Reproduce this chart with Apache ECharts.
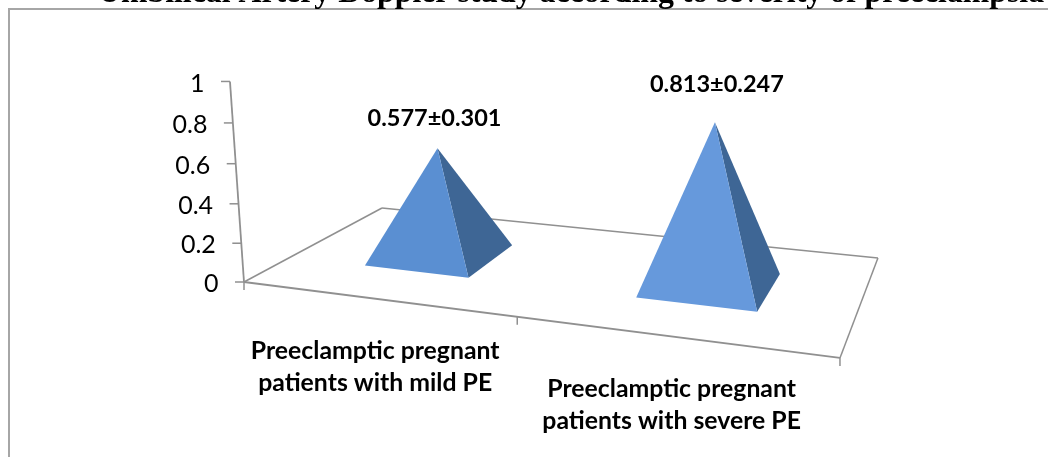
<!DOCTYPE html>
<html>
<head>
<meta charset="utf-8">
<title>Umbilical Artery Doppler</title>
<script src="https://cdn.jsdelivr.net/npm/echarts@6/dist/echarts.min.js"></script>
<style>
    html, body { margin: 0; padding: 0; background: #fff; }
    #chart { width: 1048px; height: 457px; }
</style>
</head>
<body>
<div id="chart"></div>
<script>
const titleText = "Umbilical Artery Doppler study according to severity of preeclampsia";
const categories = ["Preeclamptic pregnant\npatients with mild PE", "Preeclamptic pregnant\npatients with severe PE"];
const means = [0.577, 0.813];
const deviations = [0.301, 0.247];
const yTicks = [0, 0.2, 0.4, 0.6, 0.8, 1];

// colours per pyramid, the original has a slight lighting change
const frontColors = ["#5a8fd2", "#6699dc"];
const sideColors = ["#3e6695", "#3e6695"];
const lineColor = "#909090";

// 3d look: u along the categories, v into the depth, t up the value axis
const M = {
    a: 467.2, b: 219.5, p: -23.5, c: 244,
    d: 21.1, e: -29.6, q: -203.9, f: 282,
    g: -0.1533, h: 0.2134, r: -0.0412
};
function project(u, v, t) {
    const w = M.g * u + M.h * v + M.r * t + 1;
    return [
        (M.a * u + M.b * v + M.p * t + M.c) / w,
        (M.d * u + M.e * v + M.q * t + M.f) / w
    ];
}
// from grid pixels (what api.coord gives) to u and t
function toUT(params, pt) {
    const cs = params.coordSys;
    return [(pt[0] - cs.x) / cs.width, (cs.y + cs.height - pt[1]) / cs.height];
}
function line(p1, p2, width) {
    return {
        type: "line",
        shape: { x1: p1[0], y1: p1[1], x2: p2[0], y2: p2[1] },
        style: { stroke: lineColor, lineWidth: width || 1.5 }
    };
}
function poly(points, color) {
    return { type: "polygon", shape: { points: points }, style: { fill: color } };
}
function text(x, y, str, font, align) {
    return {
        type: "text",
        x: x,
        y: y,
        style: {
            text: str,
            fill: "#000",
            font: font,
            align: align,
            verticalAlign: "middle",
            lineHeight: 32.5
        }
    };
}

const tickFont = "25px Lato";
const valueFont = "bold 23.5px Lato";
const labelFont = "bold 24.8px Lato";
const halfBase = 0.1;
const depthNear = 0.3;
const depthFar = 0.7;
const valueLabelShift = [[-3, -30], [2, -38]];

function renderFloor(params, api) {
    const n = categories.length;
    const children = [
        line(project(0, 0, 0), project(1, 0, 0), 1.8),
        line(project(1, 0, 0), project(1, 1, 0)),
        line(project(1, 1, 0), project(0, 1, 0)),
        line(project(0, 1, 0), project(0, 0, 0)),
        line(project(0, 0, 0), project(0, 0, 1), 1.8)
    ];
    for (let i = 0; i <= n; i++) {
        const p = project(i / n, 0, 0);
        children.push(line(p, [p[0], p[1] + 8]));
    }
    return { type: "group", children: children };
}

function renderYTick(params, api) {
    const ut = toUT(params, api.coord([0, api.value(1)]));
    const p = project(0, 0, ut[1]);
    return {
        type: "group",
        children: [
            line(p, [p[0] - 9, p[1]]),
            text(p[0] - 25.5, p[1] + 2, yTicks[params.dataIndex] + "", tickFont, "right")
        ]
    };
}

function renderPyramid(params, api) {
    const i = params.dataIndex;
    const base = toUT(params, api.coord([i, 0]));
    const top = toUT(params, api.coord([i, api.value(1)]));
    const u = base[0];
    const fl = project(u - halfBase, depthNear, 0);
    const fr = project(u + halfBase, depthNear, 0);
    const br = project(u + halfBase, depthFar, 0);
    const apex = project(u, (depthNear + depthFar) / 2, top[1]);
    const shift = valueLabelShift[i];
    const foot = project(u, 0, 0);
    return {
        type: "group",
        children: [
            poly([fr, br, apex], sideColors[i]),
            poly([fl, fr, apex], frontColors[i]),
            text(apex[0] + shift[0], apex[1] + shift[1],
                means[i].toFixed(3) + "±" + deviations[i].toFixed(3), valueFont, "center"),
            text(foot[0], foot[1] + 68.5, categories[i], labelFont, "center")
        ]
    };
}

const myChart = echarts.init(document.getElementById("chart"));
myChart.setOption({
    animation: false,
    backgroundColor: "#fff",
    title: {
        text: titleText,
        left: 93,
        top: -27,
        textStyle: {
            fontFamily: "Liberation Serif",
            fontWeight: "bold",
            fontSize: 31.8,
            color: "#000"
        }
    },
    graphic: [{
        type: "rect",
        shape: { x: 9, y: 9, width: 1200, height: 600 },
        style: { fill: "none", stroke: "#a6a6a6", lineWidth: 2 },
        silent: true
    }],
    grid: { left: 244, top: 81, width: 596, height: 201 },
    xAxis: { type: "category", data: categories, show: false },
    yAxis: { type: "value", min: 0, max: 1, interval: 0.2, show: false },
    series: [
        {
            type: "custom",
            coordinateSystem: "cartesian2d",
            renderItem: renderFloor,
            data: [[0, 0]],
            silent: true,
            z: 1
        },
        {
            type: "custom",
            coordinateSystem: "cartesian2d",
            renderItem: renderYTick,
            data: yTicks.map(function (v) { return [0, v]; }),
            silent: true,
            z: 2
        },
        {
            type: "custom",
            coordinateSystem: "cartesian2d",
            renderItem: renderPyramid,
            data: means.map(function (v, i) { return [i, v]; }),
            silent: true,
            z: 3
        }
    ]
});
</script>
</body>
</html>
